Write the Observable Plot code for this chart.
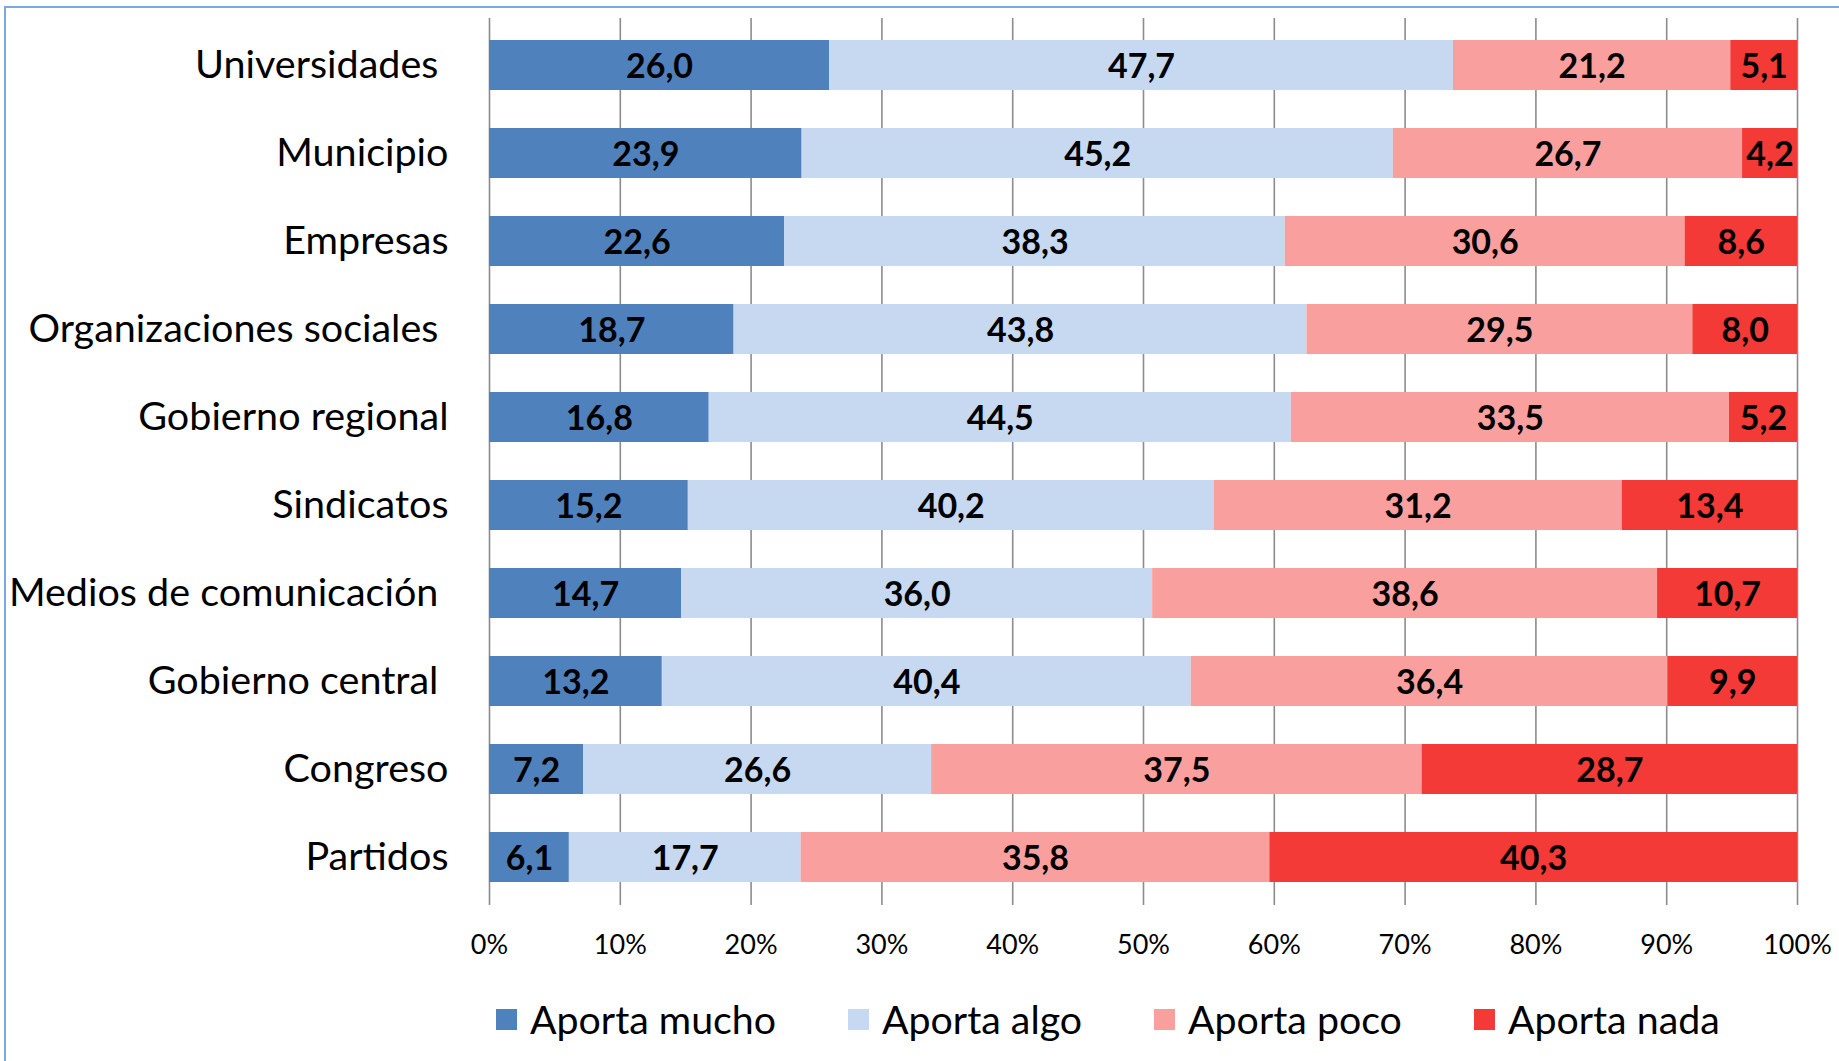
<!DOCTYPE html>
<html>
<head>
<meta charset="utf-8">
<script src="https://cdn.jsdelivr.net/npm/d3@7"></script>
<script src="https://cdn.jsdelivr.net/npm/@observablehq/plot@0.6"></script>
<style>
  html, body { margin: 0; padding: 0; background: #fff; overflow: hidden; }
  #frame { position: absolute; left: 4px; top: 6px; width: 2000px; height: 1200px; border-left: 2px solid #7AA7E6; border-top: 2px solid #7AA7E6; box-sizing: border-box; }
  #chart { position: absolute; left: 0; top: 0; }
  #legend { position: absolute; left: 496px; top: 994px; }
  .lg-swatch { margin-right: 72px !important; }
  .lg-swatch > svg { margin-right: 13px !important; }
</style>
</head>
<body>
<div id="frame"></div>
<div id="chart"></div>
<div id="legend"></div>
<script>
// Categories, top to bottom (trailing non-breaking space as in the original labels)
const categories = [
  "Universidades\u00a0",
  "Municipio",
  "Empresas",
  "Organizaciones sociales\u00a0",
  "Gobierno regional",
  "Sindicatos",
  "Medios de comunicación\u00a0",
  "Gobierno central\u00a0",
  "Congreso",
  "Partidos"
];
const series = ["Aporta mucho", "Aporta algo", "Aporta poco", "Aporta nada"];
const colors = ["#4F81BD", "#C6D9F0", "#F9A09E", "#F33A36"];

const aportaMucho = [26.0, 23.9, 22.6, 18.7, 16.8, 15.2, 14.7, 13.2, 7.2, 6.1];
const aportaAlgo  = [47.7, 45.2, 38.3, 43.8, 44.5, 40.2, 36.0, 40.4, 26.6, 17.7];
const aportaPoco  = [21.2, 26.7, 30.6, 29.5, 33.5, 31.2, 38.6, 36.4, 37.5, 35.8];
const aportaNada  = [5.1, 4.2, 8.6, 8.0, 5.2, 13.4, 10.7, 9.9, 28.7, 40.3];

const xTicks = [0, 0.1, 0.2, 0.3, 0.4, 0.5, 0.6, 0.7, 0.8, 0.9, 1.0];

const seriesValues = [aportaMucho, aportaAlgo, aportaPoco, aportaNada];
const data = [];
categories.forEach((cat, i) => {
  series.forEach((s, j) => {
    data.push({cat, series: s, value: seriesValues[j][i]});
  });
});

const fmt = v => v.toFixed(1).replace(".", ",");

const W = 1839, H = 990;
const plot = Plot.plot({
  width: W,
  height: H,
  marginLeft: 489,
  marginRight: 42,
  marginTop: 18,
  marginBottom: H - 905,
  style: {fontFamily: "Lato, sans-serif", color: "#000", background: "transparent", overflow: "visible"},
  x: {domain: [0, 1]},
  y: {domain: categories, paddingInner: 0.43, paddingOuter: 0.215},
  color: {domain: series, range: colors},
  marks: [
    Plot.gridX(xTicks, {stroke: "#8C8C8C", strokeOpacity: 1, strokeWidth: 1.6}),
    Plot.barX(data, Plot.stackX({x: "value", y: "cat", fill: "series", offset: "normalize", order: series})),
    Plot.text(data, Plot.stackX({
      x: "value", y: "cat", z: "series", offset: "normalize", order: series,
      text: d => fmt(d.value), fontSize: 34, fontWeight: "bold", fill: "#000", dy: 2
    })),
    Plot.axisY({tickSize: 0, tickPadding: 41, fontSize: 39.5, label: null, fill: "#000"}),
    Plot.axisX(xTicks, {tickSize: 0, tickPadding: 29, fontSize: 27, label: null, tickFormat: d3.format(".0%"), fill: "#000"})
  ]
});
document.getElementById("chart").appendChild(plot);

const legend = Plot.legend({
  color: {type: "ordinal", domain: series, range: colors},
  swatchSize: 21,
  className: "lg",
  style: {fontFamily: "Lato, sans-serif", fontSize: "39.3px", color: "#000", lineHeight: "50px"}
});
document.getElementById("legend").appendChild(legend);
</script>
</body>
</html>
